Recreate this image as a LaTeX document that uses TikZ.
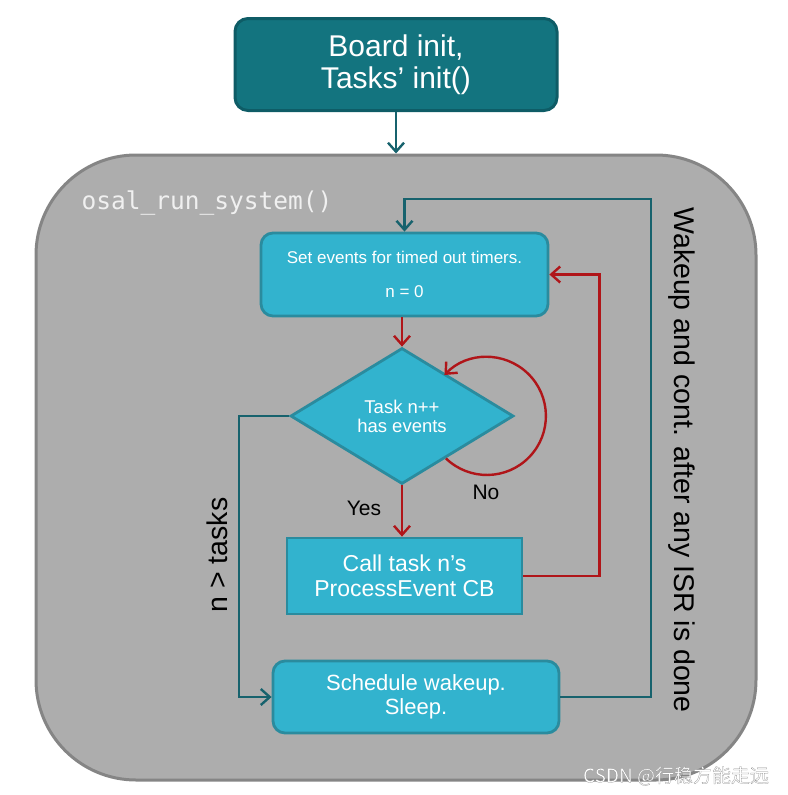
\documentclass[tikz,border=0pt]{standalone}
\usepackage{fontspec}
\setmainfont{Liberation Sans}
\setmonofont{DejaVu Sans Mono}
\newfontfamily\cjk[FakeBold=1.2]{Noto Sans CJK SC}
\usetikzlibrary{arrows.meta,shapes.geometric}

\definecolor{initfill}{HTML}{13747F}
\definecolor{initline}{HTML}{0E5C66}
\definecolor{stepfill}{HTML}{32B3CE}
\definecolor{stepline}{HTML}{2A8B9E}
\definecolor{runfill}{HTML}{ADADAD}
\definecolor{runline}{HTML}{858585}
\definecolor{flowteal}{HTML}{17626D}
\definecolor{flowred}{HTML}{B01519}

\tikzset{
  osalbox/.style={draw=stepline, fill=stepfill, line width=2.8pt, text=white,
    inner sep=0pt, align=center},
  tealflow/.style={draw=flowteal, line width=2.4pt, -{Straight Barb[length=9pt,width=16pt]}},
  redflow/.style={draw=flowred, line width=2.4pt, -{Straight Barb[length=9pt,width=16pt]}},
}

\begin{document}
\begin{tikzpicture}[x=1pt, y=-1pt]
  \useasboundingbox (0,0) rectangle (787,795);
  \node[draw=runline, fill=runfill, line width=3pt, rounded corners=100pt,
    minimum width=720pt, minimum height=625pt] (run) at (396,467.5) {};
  \node[draw=initline, fill=initfill, line width=3pt, rounded corners=13pt, text=white,
    align=center, inner sep=0pt, minimum width=322pt, minimum height=92pt,
    font=\fontsize{30}{32}\selectfont] (init) at (396,64.5) {Board init,\\Tasks’ init()};
  \node[text=white!94!black, anchor=west, font=\fontsize{24.5}{26}\ttfamily] (osal)
    at (78,203) {osal\_run\_system()};
  \node[osalbox, rounded corners=12pt, minimum width=287pt, minimum height=83pt,
    font=\fontsize{17}{34}\selectfont] (set) at (404.5,274.5)
    {Set events for timed out timers.\\n = 0};
  \node[osalbox, diamond, aspect=1.64, minimum width=223pt, minimum height=136pt,
    font=\fontsize{18.5}{19}\selectfont] (task) at (402,416) {Task n++\\has events};
  \node[osalbox, minimum width=235pt, minimum height=76pt,
    font=\fontsize{23}{25}\selectfont] (call) at (404.5,576) {Call task n’s\\ProcessEvent CB};
  \node[osalbox, rounded corners=12pt, minimum width=286pt, minimum height=72pt,
    font=\fontsize{22}{24}\selectfont] (sched) at (416,697) {Schedule wakeup.\\Sleep.};
  \node[font=\fontsize{21}{24}\selectfont] (yes) at (364,508) {Yes};
  \node[font=\fontsize{21}{24}\selectfont] (no) at (486,492) {No};
  \node[rotate=90, font=\fontsize{28.5}{30}\selectfont] (ntasks) at (217,555) {n > tasks};
  \node[rotate=-90, font=\fontsize{28.5}{30}\selectfont] (isr) at (682,460)
    {Wakeup and cont. after any ISR is done};
  \node[text=white, font=\fontsize{19}{21}\cjk] (mark) at (676,776)
    {\special{pdf:code 0.55 G}CSDN @行稳方能走远};
  \coordinate (wake) at (651,199);
  \coordinate (skip) at (239,697);
  \begin{scope}[line join=miter]
    \draw[tealflow] (init.south) -- (run.north);
    \draw[redflow] (set.south -| task.north) -- (task.north);
    \draw[redflow] (task.south) -- (call.north -| task.south);
    \draw[redflow] (task.-44) arc[start angle=-134, end angle=136, radius=59pt];
    \draw[redflow] (call.east) -- ++(76,0) |- (set.east);
    \draw[tealflow] (task.west) -| (skip) -- (sched.west);
    \draw[tealflow] (sched.east) -| (wake) -| (set.north);
  \end{scope}
\end{tikzpicture}
\end{document}
